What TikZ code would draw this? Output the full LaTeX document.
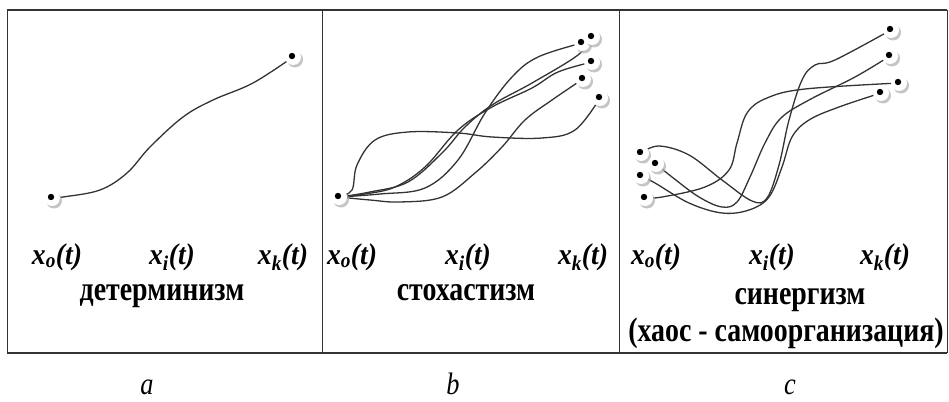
\documentclass[tikz,border=0pt]{standalone}
\usepackage{fontspec}
\setmainfont{Liberation Serif}
\newfontfamily\capfont[FakeStretch=0.82]{Liberation Serif}
\newfontfamily\labfont[FakeStretch=0.92]{Liberation Serif}
\newfontfamily\letfont[FakeStretch=0.85]{Liberation Serif}
\usetikzlibrary{shadows}
\begin{document}
\begin{tikzpicture}[x=1pt,y=-1pt,
  xlabel/.style={font=\fontsize{30}{32}\selectfont\labfont\bfseries\itshape, inner sep=0pt, anchor=base},
  captext/.style={font=\fontsize{34}{36}\selectfont\capfont\bfseries, inner sep=0pt, anchor=base},
  panelletter/.style={font=\fontsize{31}{33}\selectfont\letfont\itshape, inner sep=0pt, anchor=base},
  traj/.style={line width=1.3pt, black!80},
  boxline/.style={line width=1pt, black!80},
  dotnode/.style={circle, minimum size=16pt, inner sep=0pt, fill=white,
    drop shadow={shadow xshift=2pt, shadow yshift=-2.5pt, fill=black!30, opacity=0.75},
    path picture={\fill[black] ([xshift=-1pt,yshift=1pt]path picture bounding box.center) circle (3.2pt);}}
]
\useasboundingbox (0,0) rectangle (949,401);
% frame
\coordinate (TL) at (7,10);
\coordinate (TR) at (947,10);
\coordinate (BL) at (7,353);
\coordinate (BR) at (947,353);
\coordinate (D1t) at (322,10);
\coordinate (D1b) at (322,353);
\coordinate (D2t) at (619,10);
\coordinate (D2b) at (619,353);
\draw[boxline] (TL) -- (BL);
\draw[boxline] (TR) -- (BR);
\draw[boxline] (D1t) -- (D1b);
\draw[boxline] (D2t) -- (D2b);
\draw[boxline, line width=1.7pt] (TL) -- (TR);
\draw[boxline, line width=1.7pt] (BL) -- (BR);

% ---------- panel a ----------
\coordinate (a0) at (52,198);
\coordinate (a1) at (293,57);
\draw[traj] plot[smooth, tension=0.6] coordinates {(a0) (63,197) (100,190) (127,173) (150,147) (183,117) (213,100) (253,83) (a1)};
\node[dotnode] (A0) at (a0) {};
\node[dotnode] (A1) at (a1) {};

% ---------- panel b ----------
\coordinate (b0) at (339,197);
\coordinate (b1) at (582,43);
\coordinate (b2) at (592,37);
\coordinate (b3) at (592,62);
\coordinate (b4) at (583,79);
\coordinate (b5) at (600,98);
\draw[traj] plot[smooth, tension=0.6] coordinates {(b0) (352,190) (357,165) (375,140) (408,132) (458,133) (492,137) (542,138) (575,130) (b5)};
\draw[traj] plot[smooth, tension=0.6] coordinates {(b0) (380,194) (425,188) (458,160) (485,113) (512,77) (538,57) (b1)};
\draw[traj] plot[smooth, tension=0.6] coordinates {(b0) (370,192) (408,182) (442,153) (465,127) (492,105) (532,83) (578,55) (b2)};
\draw[traj] plot[smooth, tension=0.6] coordinates {(b0) (365,194) (395,187) (425,167) (458,130) (492,107) (532,88) (558,72) (b3)};
\draw[traj] plot[smooth, tension=0.6] coordinates {(b0) (370,200) (400,202) (442,197) (475,173) (502,147) (525,120) (552,100) (b4)};
\node[dotnode] (B1) at (b1) {};
\node[dotnode] (B2) at (b2) {};
\node[dotnode] (B3) at (b3) {};
\node[dotnode] (B4) at (b4) {};
\node[dotnode] (B5) at (b5) {};
\node[dotnode] (B0) at (b0) {};

% ---------- panel c ----------
\coordinate (l1) at (641,153);
\coordinate (l2) at (656,164);
\coordinate (l3) at (641,176);
\coordinate (l4) at (645,198);
\coordinate (r1) at (891,30);
\coordinate (r2) at (890,56);
\coordinate (r3) at (899,83);
\coordinate (r4) at (881,93);
\draw[traj] plot[smooth, tension=0.6] coordinates {(l1) (659,146) (689,155) (722,180) (752,201) (767,198) (779,165) (789,120) (802,80) (815,65) (835,60) (r1)};
\draw[traj] plot[smooth, tension=0.6] coordinates {(l2) (672,177) (699,197) (722,207) (737,202) (750,177) (765,143) (781,118) (809,100) (855,77) (r2)};
\draw[traj] plot[smooth, tension=0.6] coordinates {(l3) (655,183) (689,203) (722,213) (749,210) (769,197) (782,167) (792,137) (809,120) (839,107) (r4)};
\draw[traj] plot[smooth, tension=0.6] coordinates {(l4) (662,197) (705,187) (729,170) (737,143) (747,113) (767,98) (805,89) (r3)};
\node[dotnode] (C1) at (l1) {};
\node[dotnode] (C3) at (l3) {};
\node[dotnode] (C2) at (l2) {};
\node[dotnode] (C4) at (l4) {};
\node[dotnode] (R1) at (r1) {};
\node[dotnode] (R2) at (r2) {};
\node[dotnode] (R3) at (r3) {};
\node[dotnode] (R4) at (r4) {};

% ---------- labels ----------
\node[xlabel] (ax0) at (57,264) {x\textsubscript{o}(t)};
\node[xlabel] (axi) at (172,264) {x\textsubscript{i}(t)};
\node[xlabel] (axk) at (283,264) {x\textsubscript{k}(t)};
\node[xlabel] (bx0) at (352,264) {x\textsubscript{o}(t)};
\node[xlabel] (bxi) at (468,264) {x\textsubscript{i}(t)};
\node[xlabel] (bxk) at (583,264) {x\textsubscript{k}(t)};
\node[xlabel] (cx0) at (656,264) {x\textsubscript{o}(t)};
\node[xlabel] (cxi) at (772,264) {x\textsubscript{i}(t)};
\node[xlabel] (cxk) at (885,264) {x\textsubscript{k}(t)};

\node[captext] (capa) at (162,300) {детерминизм};
\node[captext] (capb) at (466,300) {стохастизм};
\node[captext] (capc) at (800,304) {синергизм};
\node[captext] (capc2) at (786,341) {(хаос - самоорганизация)};

\node[panelletter] (la) at (147,394) {a};
\node[panelletter] (lb) at (453,394) {b};
\node[panelletter] (lc) at (790,394) {c};
\end{tikzpicture}
\end{document}
